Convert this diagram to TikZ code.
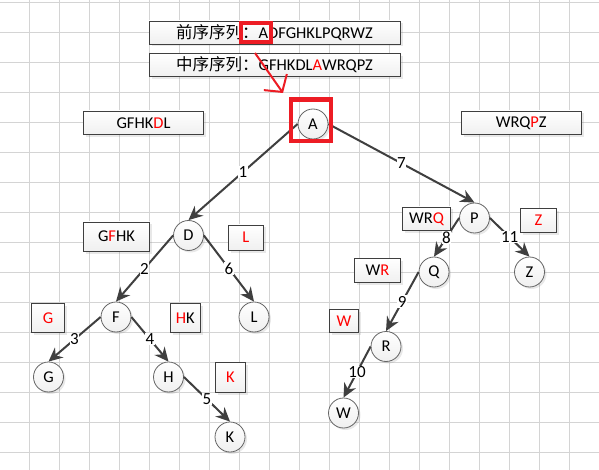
\documentclass[tikz,border=0pt]{standalone}
\usepackage{fontspec}
\setmainfont{Carlito}
\newfontfamily\cjk{Noto Sans CJK SC}
\usepackage{tikz}
\usetikzlibrary{arrows.meta,shadows}
\definecolor{ink}{HTML}{3F3F3F}
\definecolor{gridgray}{HTML}{D4D4D4}
\definecolor{hlred}{HTML}{ED1C24}
\definecolor{txtred}{HTML}{FF0000}
\newcommand{\rd}[1]{\textcolor{txtred}{#1}}

\tikzset{
  treenode/.style={circle,draw=ink!80,line width=0.8pt,minimum size=30pt,inner sep=0pt,
    top color=white,bottom color=gray!12,text=black,
    drop shadow={shadow xshift=2pt,shadow yshift=-2pt,opacity=0.18}},
  seqbox/.style={rectangle,draw=ink,line width=0.9pt,inner sep=0pt,
    top color=white,bottom color=gray!12,text=black,
    drop shadow={shadow xshift=2.5pt,shadow yshift=-2.5pt,opacity=0.18}},
  edge/.style={draw=ink,line width=2pt,-{Stealth[length=14pt,width=13pt]}},
  steplabel/.style={fill=white,inner sep=0.6pt,text=black,font=\fontsize{17}{19}\selectfont}
}

\begin{document}
\begin{tikzpicture}[x=1pt,y=-1pt,font=\fontsize{16.5}{18}\selectfont]
  \useasboundingbox (0,0) rectangle (599,470);
  \fill[white] (0,0) rectangle (599,470);

  % Background grid.
  \foreach \k in {0,...,19}{
    \draw[gridgray,line width=0.9pt] (29.5+30*\k,0) -- (29.5+30*\k,470);
  }
  \foreach \k in {0,...,15}{
    \draw[gridgray,line width=0.9pt] (0,2.5+30*\k) -- (599,2.5+30*\k);
  }

  % Traversal sequences.
  \node[seqbox,minimum width=251pt,minimum height=23pt] (pre) at (274.5,32.5)
    {{\cjk 前序序列：}ADFGHKLPQRWZ};
  \node[seqbox,minimum width=251pt,minimum height=23pt] (mid) at (274.5,65)
    {{\cjk 中序序列：}GFHKDL\rd{A}WRQPZ};

  % Tree nodes.
  \node[treenode] (A) at (313,124) {A};
  \node[treenode] (D) at (188.5,235.5) {D};
  \node[treenode] (L) at (254,317) {L};
  \node[treenode] (F) at (116,317) {F};
  \node[treenode] (G) at (48.5,377) {G};
  \node[treenode] (H) at (168.5,377) {H};
  \node[treenode] (K) at (230,437) {K};
  \node[treenode] (P) at (474.5,218) {P};
  \node[treenode] (Q) at (434,272) {Q};
  \node[treenode] (Z) at (529.5,272) {Z};
  \node[treenode] (R) at (386,346.5) {R};
  \node[treenode] (W) at (343.5,413) {W};

  % Sub-sequences, root of each in red.
  \foreach \nm/\xa/\ya/\xb/\yb/\txt in {
      sGFHKDL/83.5/111/203.5/134.5/{GFHK\rd{D}L},
      sWRQPZ/461.5/111/581/134.5/{WRQ\rd{P}Z},
      sGFHK/83.5/222/149.5/251/{G\rd{F}HK},
      sL/228/225/263.5/250/{\rd{L}},
      sWRQ/402.5/207/450.5/230.5/{WR\rd{Q}},
      sZ/520.5/208.5/556.5/232.5/{\rd{Z}},
      sWR/354.5/258.5/400.5/282.5/{W\rd{R}},
      sG/31.5/303/64.5/332.5/{\rd{G}},
      sHK/170.5/303/200/332.5/{\rd{H}K},
      sK/215.5/362.5/245.5/392.5/{\rd{K}},
      sW/329.5/309/358.5/332.5/{\rd{W}}}{
    \node[seqbox,minimum width=\xb-\xa,minimum height=\yb-\ya] (\nm)
      at ({(\xa+\xb)/2},{(\ya+\yb)/2}) {\txt};
  }

  % Edges, numbered in order of construction.
  \draw[edge] (A.west) -- node[steplabel] {1} (D.north);
  \draw[edge] (D.west) -- node[steplabel] {2} (F.north);
  \draw[edge] (F.west) -- node[steplabel] {3} (G.north);
  \draw[edge] (F.east) -- node[steplabel] {4} (H.north);
  \draw[edge] (H.east) -- node[steplabel] {5} (K.north);
  \draw[edge] (D.east) -- node[steplabel] {6} (L.north);
  \draw[edge] (A.east) -- node[steplabel] {7} (P.north);
  \draw[edge] (P.west) -- node[steplabel] {8} (Q.north);
  \draw[edge] (Q.west) -- node[steplabel] {9} (R.north);
  \draw[edge] (R.west) -- node[steplabel] {10} (W.north);
  \draw[edge] (P.east) -- node[steplabel] {11} (Z.north);

  % Red highlight: first element of preorder is the root.
  \draw[hlred,line width=4pt] (241,23) rectangle (270.5,42);
  \draw[hlred,line width=4.5pt] (291.2,99.5) rectangle (331.2,141);
  \coordinate (arrowfrom) at (255,53);
  \coordinate (arrowto) at (283,93);
  \draw[hlred,line width=2pt,-{Straight Barb[length=12pt,width=28pt,line width=2pt]}]
    (arrowfrom) -- (arrowto);
\end{tikzpicture}
\end{document}
